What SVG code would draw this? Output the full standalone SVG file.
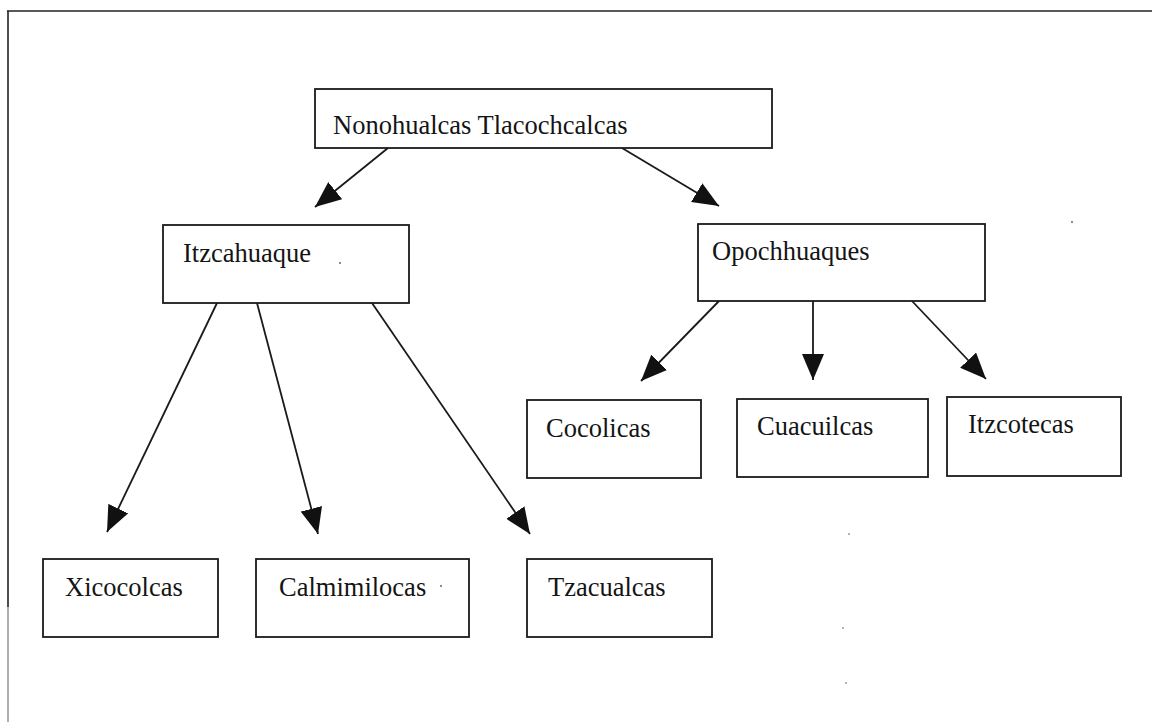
<svg xmlns="http://www.w3.org/2000/svg" width="1152" height="722" viewBox="0 0 1152 722">
  <style>
    .box { fill: #ffffff; stroke: #1a1a1a; stroke-width: 1.8; }
    .lbl { font-family: "Liberation Serif", "Times New Roman", serif; font-size: 26.5px; fill: #141414; }
    .edge { fill: none; stroke: #1a1a1a; stroke-width: 1.8; marker-end: url(#head); }
    .frame { fill: none; stroke: #222222; stroke-width: 1.6; }
    .speck { fill: #555555; }
  </style>
  <defs>
    <marker id="head" viewBox="0 0 26 22" refX="26" refY="11" markerWidth="26" markerHeight="22" markerUnits="userSpaceOnUse" orient="auto">
      <path d="M0,0 L26,11 L0,22 Z" fill="#111111"/>
    </marker>
  </defs>

  <rect width="1152" height="722" fill="#ffffff"/>

  <!-- page frame: top rule and left rule only -->
  <g id="frame">
    <line class="frame" x1="7" y1="11" x2="1152" y2="11"/>
    <line class="frame" x1="8" y1="11" x2="8" y2="607"/>
    <line x1="8" y1="607" x2="8" y2="722" stroke="#9a9a9a" stroke-width="1.6"/>
  </g>

  <!-- connectors -->
  <g id="connectors">
    <line class="edge" x1="388" y1="148" x2="315" y2="207"/>
    <line class="edge" x1="622" y1="148" x2="719" y2="206"/>
    <line class="edge" x1="217" y1="303" x2="107" y2="532"/>
    <line class="edge" x1="257" y1="303" x2="318" y2="534"/>
    <line class="edge" x1="372" y1="303" x2="530" y2="534"/>
    <line class="edge" x1="719" y1="301" x2="641" y2="381"/>
    <line class="edge" x1="813" y1="301" x2="813" y2="380"/>
    <line class="edge" x1="912" y1="301" x2="986" y2="379"/>
  </g>

  <g id="n-nonohualcas">
    <rect class="box" x="315" y="89" width="457" height="59"/>
    <text class="lbl" x="333" y="134">Nonohualcas Tlacochcalcas</text>
  </g>

  <g id="n-itzcahuaque">
    <rect class="box" x="163" y="225" width="246" height="78"/>
    <text class="lbl" x="183" y="262">Itzcahuaque</text>
  </g>

  <g id="n-opochhuaques">
    <rect class="box" x="698" y="224" width="287" height="77"/>
    <text class="lbl" x="712" y="260">Opochhuaques</text>
  </g>

  <g id="n-cocolicas">
    <rect class="box" x="527" y="400" width="174" height="78"/>
    <text class="lbl" x="546" y="437">Cocolicas</text>
  </g>

  <g id="n-cuacuilcas">
    <rect class="box" x="737" y="399" width="191" height="78"/>
    <text class="lbl" x="757" y="435">Cuacuilcas</text>
  </g>

  <g id="n-itzcotecas">
    <rect class="box" x="947" y="397" width="174" height="79"/>
    <text class="lbl" x="968" y="433">Itzcotecas</text>
  </g>

  <g id="n-xicocolcas">
    <rect class="box" x="43" y="559" width="175" height="78"/>
    <text class="lbl" x="65" y="596">Xicocolcas</text>
  </g>

  <g id="n-calmimilocas">
    <rect class="box" x="256" y="559" width="213" height="78"/>
    <text class="lbl" x="279" y="596">Calmimilocas</text>
  </g>

  <g id="n-tzacualcas">
    <rect class="box" x="527" y="559" width="185" height="78"/>
    <text class="lbl" x="548" y="596">Tzacualcas</text>
  </g>

  <!-- stray print specks -->
  <g id="specks">
    <circle class="speck" cx="340" cy="263" r="0.9"/>
    <circle class="speck" cx="441" cy="586" r="0.9"/>
    <circle class="speck" cx="1072" cy="222" r="0.9"/>
    <circle class="speck" cx="849" cy="534" r="0.8"/>
    <circle class="speck" cx="843" cy="628" r="0.8"/>
    <circle class="speck" cx="846" cy="683" r="0.8"/>
  </g>
</svg>
